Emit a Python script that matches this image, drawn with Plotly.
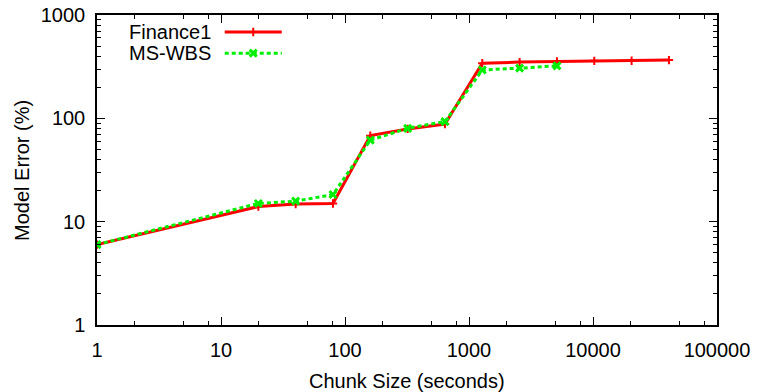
import plotly.graph_objects as go

chunk_sizes = [1, 20, 40, 80, 160, 320, 640, 1280, 2560, 5120, 10240, 20480, 40960]
finance1 = [6.0, 14.0, 14.8, 15.0, 68, 79, 88, 342, 350, 355, 360, 361, 366]
ms_wbs_x = [1, 20, 40, 80, 160, 320, 640, 1280, 2560, 5120]
ms_wbs = [6.0, 15.0, 15.8, 18.3, 61.5, 80, 93, 294, 306, 322]

names = ["Finance1", "MS-WBS"]
x_title = "Chunk Size (seconds)"
y_title = "Model Error (%)"
red = "#ff0000"
green = "#00ee00"
font = "Liberation Sans, Arial, sans-serif"
fs = 20

fig = go.Figure()
fig.add_trace(go.Scatter(
    x=chunk_sizes, y=finance1, mode="lines+markers", name=names[0],
    line=dict(color=red, width=3),
    marker=dict(symbol="cross-thin", size=6, line=dict(color=red, width=2)),
    showlegend=False))
fig.add_trace(go.Scatter(
    x=ms_wbs_x, y=ms_wbs, mode="lines+markers", name=names[1],
    line=dict(color=green, width=3, dash="4px,3px"),
    marker=dict(symbol="x-thin", size=7, line=dict(color=green, width=3)),
    showlegend=False))

# legend samples on an overlay axis in 0..1 units
leg_x = [0.206, 0.252, 0.298]
leg_y = [0.945, 0.877]
fig.add_trace(go.Scatter(x=[leg_x[0], leg_x[2]], y=[leg_y[0]] * 2, mode="lines",
                         line=dict(color=red, width=3), xaxis="x2", yaxis="y2",
                         showlegend=False, hoverinfo="skip"))
fig.add_trace(go.Scatter(x=[leg_x[1]], y=[leg_y[0]], mode="markers",
                         marker=dict(symbol="cross-thin", size=6, line=dict(color=red, width=2)),
                         xaxis="x2", yaxis="y2", showlegend=False, hoverinfo="skip"))
fig.add_trace(go.Scatter(x=[leg_x[0], leg_x[2]], y=[leg_y[1]] * 2, mode="lines",
                         line=dict(color=green, width=3, dash="4px,3px"), xaxis="x2", yaxis="y2",
                         showlegend=False, hoverinfo="skip"))
fig.add_trace(go.Scatter(x=[leg_x[1]], y=[leg_y[1]], mode="markers",
                         marker=dict(symbol="x-thin", size=7, line=dict(color=green, width=3)),
                         xaxis="x2", yaxis="y2", showlegend=False, hoverinfo="skip"))
for nm, yy in zip(names, leg_y):
    fig.add_annotation(x=0.187, y=yy, xref="x2", yref="y2", text=nm, showarrow=False,
                       xanchor="right", yanchor="middle",
                       font=dict(family=font, size=fs, color="black"))

# axis titles
fig.add_annotation(x=0.5, y=-0.181, xref="paper", yref="paper", text=x_title,
                   showarrow=False, xanchor="center", yanchor="middle",
                   font=dict(family=font, size=fs, color="black"))
fig.add_annotation(x=-0.121, y=0.5, xref="paper", yref="paper", text=y_title,
                   showarrow=False, xanchor="center", yanchor="middle", textangle=-90,
                   font=dict(family=font, size=fs, color="black"))

xminor = [m * 10 ** e for e in range(0, 5) for m in (2, 5, 8)]
axis_common = dict(showline=True, linecolor="black", linewidth=1.5, mirror="allticks",
                   ticks="inside", ticklen=8, tickwidth=1, tickcolor="black",
                   showgrid=False, zeroline=False, automargin=False,
                   tickfont=dict(family=font, size=fs, color="black"))

fig.update_layout(
    width=763, height=392,
    margin=dict(l=97, r=46, t=15, b=67),
    paper_bgcolor="white", plot_bgcolor="white",
    font=dict(family=font, size=fs, color="black"),
    xaxis=dict(type="log", range=[0, 5],
               tickvals=[1, 10, 100, 1000, 10000, 100000],
               ticktext=["1", "10", "100", "1000", "10000", "100000"],
               minor=dict(tickvals=xminor, ticks="inside", ticklen=4, tickcolor="black"),
               ticklabelstandoff=6,
               **axis_common),
    yaxis=dict(type="log", range=[0, 3],
               tickvals=[1, 10, 100, 1000],
               ticktext=["1", "10", "100", "1000"],
               minor=dict(dtick="D1", ticks="inside", ticklen=4, tickcolor="black"),
               ticklabelstandoff=6,
               **axis_common),
    xaxis2=dict(overlaying="x", range=[0, 1], visible=False, anchor="y2"),
    yaxis2=dict(overlaying="y", range=[0, 1], visible=False, anchor="x2"),
)

fig.write_html("out.html")
